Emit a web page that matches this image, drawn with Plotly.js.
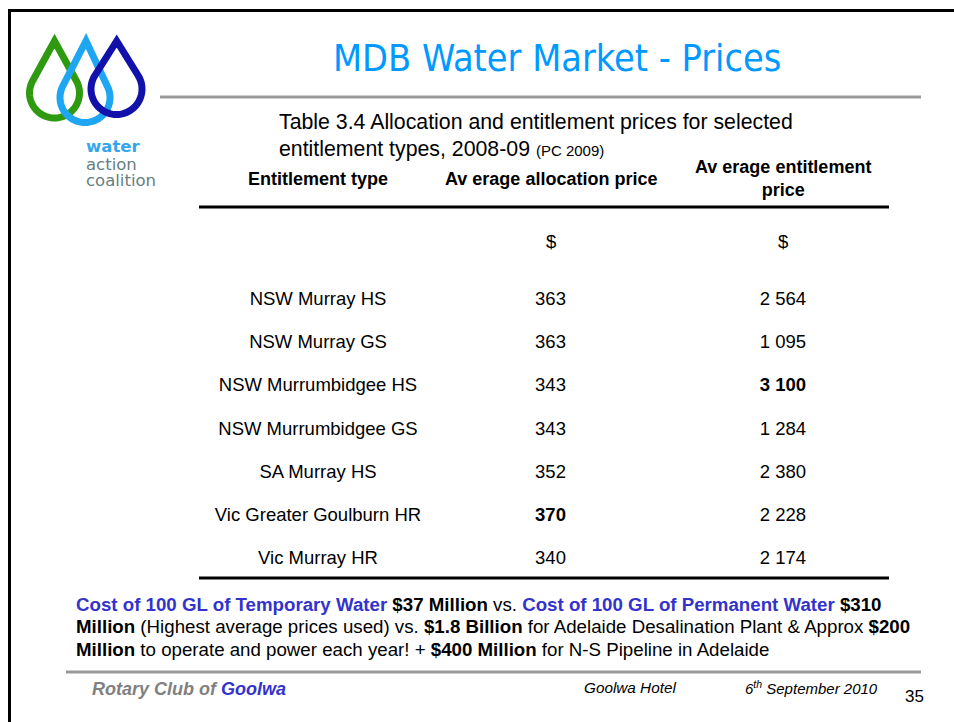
<!DOCTYPE html>
<html>
<head>
<meta charset="utf-8">
<script src="https://cdn.plot.ly/plotly-3.0.1.min.js"></script>
<style>
  html, body { margin: 0; padding: 0; background: #ffffff; }
  #chart { width: 954px; height: 722px; }
</style>
</head>
<body>
<div id="chart"></div>
<script>
// ---------------- data ----------------
const columns = ["Entitlement type", "Average allocation price", "Average entitlement price"];
const headerLabels = ["Entitlement type", "Av erage allocation price", "Av erage entitlement<br>price"];
const unitLabels = ["", "$", "$"];
const entitlementTypes = [
  "NSW Murray HS", "NSW Murray GS", "NSW Murrumbidgee HS", "NSW Murrumbidgee GS",
  "SA Murray HS", "Vic Greater Goulburn HR", "Vic Murray HR"
];
const allocationPrice = [363, 363, 343, 343, 352, 370, 340];
const entitlementPrice = [2564, 1095, 3100, 1284, 2380, 2228, 2174];

const slideTitle = "MDB Water Market - Prices";
const tableCaption1 = "Table 3.4 Allocation and entitlement prices for selected";
const tableCaption2 = "entitlement types, 2008-09";
const tableSource = "(PC 2009)";

const footnoteLines = [
  "<b><span style='color:#3333CC'>Cost of 100 GL of Temporary Water</span> $37 Million</b> vs. <b><span style='color:#3333CC'>Cost of 100 GL of Permanent Water</span> $310</b>",
  "<b>Million</b> (Highest average prices used) vs. <b>$1.8 Billion</b> for Adelaide Desalination Plant &amp; Approx <b>$200</b>",
  "<b>Million</b> to operate and power each year! + <b>$400 Million</b> for N-S Pipeline in Adelaide"
];
const footerLeft = "<b><i>Rotary Club of <span style='color:#3333CC'>Goolwa</span></i></b>";
const footerVenue = "Goolwa Hotel";
const footerDate = "6<sup>th</sup> September 2010";
const pageNumber = "35";
const logoWords = ["water", "action", "coalition"];

// ---------------- helpers ----------------
const W = 954, H = 722;
const fmt = n => String(n).replace(/\B(?=(\d{3})+(?!\d))/g, " ");
const boldMax = arr => { const m = Math.max(...arr); return arr.map(v => v === m ? "<b>" + fmt(v) + "</b>" : fmt(v)); };
const px = x => x / W;
const py = y => 1 - y / H;
const P = (x, y) => px(x).toFixed(5) + "," + py(y).toFixed(5);

const bodyFont = "'Liberation Sans', Arial, sans-serif";
const textFont = "'Liberation Sans', Arial, sans-serif";

// column centres / row centres in pixels -> axis ranges
const colStart = 318, colStep = 232.5;
const rowStart = 300.5, rowStep = 43.17;
const xr = [(0 - colStart) / colStep, (W - colStart) / colStep];
const yr = [(H - rowStart) / rowStep, (0 - rowStart) / rowStep];

// ---------------- traces ----------------
const common = { type: "scatter", mode: "text", hoverinfo: "skip", cliponaxis: false,
  textposition: "middle center", textfont: { family: bodyFont, size: 18.5, color: "#000000" } };
const traces = [
  Object.assign({}, common, { x: entitlementTypes.map(() => columns[0]), y: entitlementTypes, text: entitlementTypes }),
  Object.assign({}, common, { x: entitlementTypes.map(() => columns[1]), y: entitlementTypes, text: boldMax(allocationPrice) }),
  Object.assign({}, common, { x: entitlementTypes.map(() => columns[2]), y: entitlementTypes, text: boldMax(entitlementPrice) })
];

// ---------------- annotations ----------------
const ann = [];
const A = (o) => ann.push(Object.assign({ xref: "paper", yref: "paper", showarrow: false, xanchor: "left", yanchor: "middle", align: "left" }, o));

A({ x: px(557), y: py(58), xanchor: "center", text: slideTitle,
    font: { family: "'DejaVu Sans Condensed', 'DejaVu Sans', sans-serif", size: 37.5, color: "#0099FF" } });
A({ x: px(277), y: py(122), text: tableCaption1, font: { family: bodyFont, size: 21.3, color: "#000" } });
A({ x: px(277), y: py(149), text: tableCaption2 + " <span style='font-size:15px'>" + tableSource + "</span>", font: { family: bodyFont, size: 21.3, color: "#000" } });

columns.forEach((c, i) => {
  ann.push({ xref: "x", yref: "paper", x: c, y: py(179), showarrow: false, xanchor: "center", yanchor: "middle",
    text: "<b>" + headerLabels[i] + "</b>", font: { family: bodyFont, size: 18, color: "#000" } });
  if (unitLabels[i]) ann.push({ xref: "x", yref: "paper", x: c, y: py(241), showarrow: false, xanchor: "center", yanchor: "middle",
    text: unitLabels[i], font: { family: bodyFont, size: 18.5, color: "#000" } });
});

footnoteLines.forEach((t, i) => A({ x: px(74), y: py(604 + i * 22.5), text: t, font: { family: bodyFont, size: 18.7, color: "#000" } }));

A({ x: px(90), y: py(689), text: footerLeft, font: { family: textFont, size: 18, color: "#808080" } });
A({ x: px(582), y: py(687), text: "<i>" + footerVenue + "</i>", font: { family: textFont, size: 15.3, color: "#000" } });
A({ x: px(743), y: py(687), text: "<i>" + footerDate + "</i>", font: { family: textFont, size: 15, color: "#000" } });
A({ x: px(903), y: py(696), text: pageNumber, font: { family: textFont, size: 17, color: "#000" } });

const logoColors = ["#33A6EE", "#667E7F", "#667E7F"];
logoWords.forEach((w, i) => A({ x: px(84), y: py(147 + i * 17), text: i === 0 ? "<b>" + w + "</b>" : w,
  font: { family: "'DejaVu Sans', sans-serif", size: 16.5, color: logoColors[i] } }));

// ---------------- shapes ----------------
const shapes = [];
const line = (x0, y0, x1, y1, color, width) => shapes.push({ type: "line", xref: "paper", yref: "paper",
  x0: px(x0), y0: py(y0), x1: px(x1), y1: py(y1), line: { color: color, width: width } });
// slide frame
line(8, 10.5, W, 10.5, "#000000", 3);
line(9.5, 9, 9.5, H, "#000000", 3);
// title rule and footer rule
line(160, 97, 921, 97, "#9A9A9A", 3);
line(66, 672, 921, 672, "#9A9A9A", 3);
// table rules
line(199, 207, 889, 207, "#000000", 3);
line(199, 578, 889, 578, "#000000", 3);

// logo drops
function drop(tx, ty, cx, cy, r, color) {
  const d = cy - ty;
  const th = Math.acos(r / d);
  let path = "M" + P(tx, ty);
  const n = 48;
  for (let k = 0; k <= n; k++) {
    const phi = th + (2 * Math.PI - 2 * th) * k / n;
    path += " L" + P(cx + r * Math.sin(phi), cy - r * Math.cos(phi));
  }
  path += " Z";
  shapes.push({ type: "path", xref: "paper", yref: "paper", path: path, line: { color: color, width: 7 }, fillcolor: "rgba(0,0,0,0)" });
}
drop(54.5, 41, 54.5, 93, 25, "#2E9A10");
drop(86, 41, 85, 97.5, 25, "#1EA6F4");
drop(116.7, 41, 116.5, 89, 25.5, "#1212AA");

// ---------------- layout ----------------
const layout = {
  width: W, height: H,
  margin: { l: 0, r: 0, t: 0, b: 0, pad: 0 },
  paper_bgcolor: "#ffffff", plot_bgcolor: "#ffffff",
  showlegend: false,
  xaxis: { type: "category", categoryarray: columns, categoryorder: "array", range: xr,
           visible: false, fixedrange: true },
  yaxis: { type: "category", categoryarray: entitlementTypes, categoryorder: "array", range: yr,
           visible: false, fixedrange: true },
  annotations: ann,
  shapes: shapes
};

Plotly.newPlot("chart", traces, layout, { displayModeBar: false, staticPlot: true });
</script>
</body>
</html>
